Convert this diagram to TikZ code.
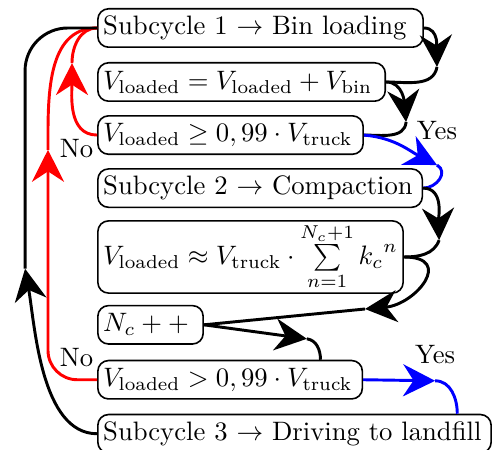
\documentclass[tikz,border=0pt]{standalone}
\usepackage{amsmath,amssymb}
\usepackage{tikz}
\usetikzlibrary{arrows.meta, positioning}

\begin{document}
\begin{tikzpicture}[
    box/.style={rectangle, rounded corners=4pt, draw, line width=0.6pt,
                minimum height=14.4pt, inner xsep=2pt, inner ysep=1pt, align=left},
    conn/.style={line width=1.1pt},
    arr/.style={conn, -{Stealth[length=12pt, width=12pt]}},
    lbl/.style={inner sep=1pt}
]
    \useasboundingbox (0,0) rectangle (184.9pt,-168.75pt);

    \node[box, text width=118pt, anchor=north west] (sub1) at (36.4pt,-3pt) {Subcycle 1 $\rightarrow$ Bin loading};
    \node[box, text width=103.8pt, below=5.25pt of sub1.south west, anchor=north west] (load) {$V_{\text{loaded}} = V_{\text{loaded}} + V_{\text{bin}}$};
    \node[box, text width=95.5pt, below=4.9pt of load.south west, anchor=north west] (full1) {$V_{\text{loaded}} \geq 0,99 \cdot V_{\text{truck}}$};
    \node[box, text width=117.7pt, below=4.9pt of full1.south west, anchor=north west] (sub2) {Subcycle 2 $\rightarrow$ Compaction};
    \node[box, text width=110.5pt, below=4.5pt of sub2.south west, anchor=north west] (sum) {$V_{\text{loaded}} \approx V_{\text{truck}} \cdot \sum\limits_{n=1}^{N_c+1} {k_c}^n$};
    \node[box, text width=35.5pt, below=4.1pt of sum.south west, anchor=north west] (count) {$N_c++$};
    \node[box, text width=95.2pt, below=5.6pt of count.south west, anchor=north west] (full2) {$V_{\text{loaded}} > 0,99 \cdot V_{\text{truck}}$};
    \node[box, text width=143.5pt, below=5.25pt of full2.south west, anchor=north west] (sub3) {Subcycle 3 $\rightarrow$ Driving to landfill};

    % right side
    \draw[arr] (sub1.east) to[out=0,in=92] ++(4.9pt,-14.6pt) coordinate (k1);
    \draw[conn] (k1) to[out=-100,in=0] (load.east);
    \draw[arr] (load.east) to[out=0,in=95] ++(7.5pt,-15pt) coordinate (k2);
    \draw[conn] (k2) to[out=-95,in=0] (full1.east);
    \draw[arr, blue] (full1.east) to[out=-5,in=153] ++(27.4pt,-11.25pt) coordinate (kb1);
    \draw[conn, blue] (kb1) to[out=-30,in=0,looseness=1.3] (sub2.east);
    \node[lbl, above=8.3pt of kb1] (yes1) {Yes};
    \draw[arr] (sub2.east) to[out=0,in=92] ++(6pt,-19.5pt) coordinate (k4);
    \draw[conn] (k4) to[out=-110,in=0] (sum.east);
    \draw[arr] (sum.east) to[out=0,in=5,looseness=2] ++(-14.6pt,-19.5pt) coordinate (k5);
    \draw[conn] (k5) -- (count.east);
    \draw[arr] (count.east) -- ++(38.6pt,-5.25pt) coordinate (k6);
    \draw[conn] (k6) to[out=-8,in=90] ([xshift=-16pt]full2.north east);
    \draw[arr, blue] (full2.east) -- ++(27pt,-0.4pt) coordinate (kb2);
    \draw[conn, blue] (kb2) to[out=0,in=90] ([xshift=-13pt]sub3.north east);
    \node[lbl, above=5pt of kb2] (yes2) {Yes};

    % left side
    \draw[arr, red] (full1.west) to[out=180,in=-90] ++(-9.4pt,27pt) coordinate (kr1);
    \draw[conn, red] (kr1) to[out=90,in=180] (sub1.west);
    \node[lbl, below left=0.5pt and 0.25pt of full1.west] (no1) {No};
    \draw[arr, red, rounded corners=11pt] (full2.west) -| ++(-18.4pt,86.25pt) coordinate (kr2);
    \draw[conn, red] (kr2) to[out=90,in=180] (sub1.west);
    \node[lbl, above left=3.5pt and 0.25pt of full2.west] (no2) {No};
    \draw[arr] (sub3.west) to[out=180,in=-80,looseness=0.8] ++(-27pt,61.9pt) coordinate (kb3);
    \draw[conn, rounded corners=16pt] (kb3) |- (sub1.west);
\end{tikzpicture}
\end{document}
